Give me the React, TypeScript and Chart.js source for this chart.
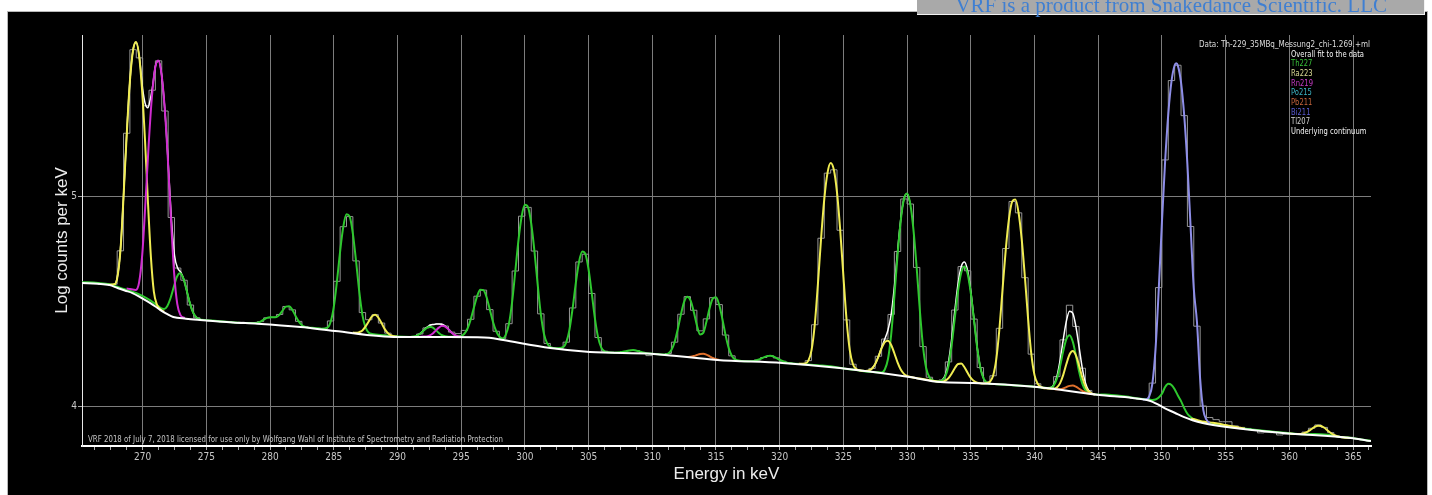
import React, { useEffect, useRef } from 'react';
import { Chart, registerables } from 'chart.js';

Chart.register(...registerables);

const WIDTH = 1432;
const HEIGHT = 495;

// ---------------- axes ----------------
const X_MIN = 265.24;
const X_MAX = 366.41;
const Y_MIN = 3.8095;
const Y_MAX = 5.767;
const X_MAJOR_TICKS = [270, 275, 280, 285, 290, 295, 300, 305, 310, 315, 320, 325, 330, 335, 340, 345, 350, 355, 360, 365];
const X_MINOR_PER_MAJOR = 4;
const Y_TICKS = [4, 5];

// ---------------- texts ----------------
const X_TITLE = 'Energy in keV';
const Y_TITLE = 'Log counts per keV';
const DATA_HEADER = 'Data: Th-229_35MBq_Messung2_chi-1.269.+ml';
const LEGEND_LABELS = ['Overall fit to the data', 'Th227', 'Ra223', 'Rn219', 'Po215', 'Pb211', 'Bi211', 'Tl207', 'Underlying continuum'];
const LEGEND_COLORS = ['#f4f4f4', '#38c038', '#dcdc96', '#c83cc8', '#3cb4c4', '#c4643c', '#5a5ad2', '#d0d0d0', '#f4f4f4'];
const LICENSE_TEXT = 'VRF 2018 of July 7, 2018 licensed for use only by Wolfgang Wahl of Institute of Spectrometry and Radiation Protection';
const BANNER_TEXT = 'VRF is a product from Snakedance Scientific. LLC';

// ---------------- data (keV, log10 counts per keV) ----------------
type Pt = [number, number];

// measured spectrum, 0.5 keV bins starting at 265.25 keV (bin centres)
const HIST_FIRST_CENTRE = 265.25;
const HIST_BIN_WIDTH = 0.5;
const histogram = [
  4.587, 4.584, 4.583, 4.579, 4.578, 4.580, 4.739, 5.299, 5.697, 5.658,
  5.430, 5.504, 5.644, 5.405, 4.898, 4.657, 4.599, 4.481, 4.420, 4.408,
  4.405, 4.407, 4.401, 4.402, 4.397, 4.399, 4.393, 4.396, 4.402, 4.420,
  4.423, 4.436, 4.474, 4.458, 4.403, 4.377, 4.373, 4.370, 4.368, 4.405,
  4.594, 4.854, 4.902, 4.691, 4.445, 4.411, 4.435, 4.395, 4.347, 4.332,
  4.330, 4.328, 4.331, 4.343, 4.372, 4.388, 4.391, 4.381, 4.352, 4.345,
  4.360, 4.413, 4.523, 4.552, 4.459, 4.356, 4.322, 4.392, 4.643, 4.904,
  4.946, 4.738, 4.439, 4.298, 4.275, 4.273, 4.304, 4.467, 4.686, 4.723,
  4.536, 4.326, 4.261, 4.256, 4.254, 4.259, 4.265, 4.264, 4.255, 4.240,
  4.247, 4.244, 4.250, 4.304, 4.437, 4.521, 4.456, 4.358, 4.415, 4.516,
  4.483, 4.338, 4.239, 4.215, 4.213, 4.213, 4.219, 4.231, 4.240, 4.229,
  4.213, 4.205, 4.202, 4.199, 4.216, 4.387, 4.799, 5.109, 5.125, 4.837,
  4.410, 4.199, 4.170, 4.167, 4.179, 4.237, 4.319, 4.436, 4.736, 4.986,
  4.962, 4.660, 4.283, 4.137, 4.118, 4.124, 4.210, 4.457, 4.664, 4.644,
  4.414, 4.183, 4.115, 4.144, 4.370, 4.750, 4.974, 4.920, 4.611, 4.247,
  4.106, 4.086, 4.087, 4.140, 4.315, 4.480, 4.379, 4.180, 4.074, 4.055,
  4.053, 4.049, 4.048, 4.046, 4.041, 4.037, 4.033, 4.035, 4.109, 4.564,
  5.172, 5.550, 5.623, 5.383, 4.855, 4.380, 4.000, 3.945, 3.935, 3.925,
  3.925, 3.905, 3.898, 3.893, 3.885, 3.872, 3.875, 3.873, 3.862, 3.866,
  3.866, 3.869, 3.876, 3.894, 3.910, 3.898, 3.873, 3.856, 3.849, 3.851,
  3.843, 3.838, 3.834,
];

const continuum: Pt[] = [
  [265.24, 4.586], [266.5, 4.582], [267.4, 4.576], [268.0, 4.563], [268.6, 4.550], [269.2, 4.538],
  [269.9, 4.515], [270.6, 4.490], [271.0, 4.474], [271.4, 4.457], [271.9, 4.439], [272.4, 4.424],
  [273.4, 4.416], [274.5, 4.410], [277.1, 4.398], [279.0, 4.392], [282.4, 4.376], [285.1, 4.357],
  [290.0, 4.329], [294.0, 4.329], [296.3, 4.328], [297.2, 4.325], [298.3, 4.314], [302.0, 4.276],
  [305.1, 4.257], [310.1, 4.248], [315.1, 4.219], [320.2, 4.205], [324.7, 4.181], [330.2, 4.138],
  [332.6, 4.114], [335.2, 4.110], [340.2, 4.090], [345.1, 4.052], [347.7, 4.038], [349.1, 4.024],
  [349.6, 4.010], [350.2, 3.990], [351.0, 3.968], [351.7, 3.948], [352.4, 3.932], [353.2, 3.919],
  [355.1, 3.900], [359.5, 3.871], [364.8, 3.848], [366.41, 3.833],
];

const overallFit: Pt[][] = [
  [
    [267.5, 4.575], [267.75, 4.577], [268.0, 4.610], [268.25, 4.739], [268.5, 4.998], [268.75, 5.299],
    [269.0, 5.547], [269.25, 5.697], [269.5, 5.733], [269.75, 5.658], [270.0, 5.510], [270.2, 5.440],
    [270.4, 5.420], [270.6, 5.460], [270.8, 5.530], [271.0, 5.618], [271.25, 5.644], [271.5, 5.572],
    [271.75, 5.405], [272.0, 5.162], [272.25, 4.898], [272.5, 4.718], [272.75, 4.657], [273.0, 4.636],
    [273.25, 4.599], [273.5, 4.539], [273.75, 4.481], [274.0, 4.440], [274.25, 4.420], [274.5, 4.412],
  ],
  [
    [291.5, 4.3355], [291.75, 4.343], [292.0, 4.357], [292.25, 4.372], [292.5, 4.383], [292.75, 4.388],
    [293.0, 4.390], [293.25, 4.391], [293.5, 4.389], [293.75, 4.381], [294.0, 4.367], [294.25, 4.350],
    [294.5, 4.338], [294.75, 4.333],
  ],
  [
    [327.25, 4.1786], [327.5, 4.2007], [327.75, 4.2365], [328.0, 4.279], [328.25, 4.3193], [328.5, 4.3622],
    [328.75, 4.4363], [329.0, 4.568], [329.25, 4.7364], [329.5, 4.8884], [329.75, 4.9862], [330.0, 5.0125],
    [330.25, 4.962],
  ],
  [
    [332.75, 4.1237], [333.0, 4.1478], [333.25, 4.2096], [333.5, 4.3196], [333.75, 4.4571], [334.0, 4.5825],
    [334.25, 4.6643], [334.5, 4.686], [334.75, 4.6442], [335.0, 4.5465], [335.25, 4.4138], [335.5, 4.280],
    [335.75, 4.1827], [336.0, 4.132],
  ],
  [
    [341.0, 4.0845], [341.25, 4.087], [341.5, 4.1003], [341.75, 4.1395], [342.0, 4.2153], [342.25, 4.3148],
    [342.5, 4.4041], [342.75, 4.4516], [343.0, 4.4423], [343.25, 4.3785], [343.5, 4.280], [343.75, 4.1802],
    [344.0, 4.1094], [344.25, 4.074], [344.5, 4.0604],
  ],
];

const th227: Pt[][] = [[
  [265.24, 4.590], [266.5, 4.586], [267.4, 4.580], [268.0, 4.568], [268.6, 4.556], [269.2, 4.545],
  [269.9, 4.527], [270.6, 4.503], [271.0, 4.486], [271.43, 4.466], [271.68, 4.462], [271.93, 4.4755],
  [272.18, 4.512], [272.43, 4.564], [272.68, 4.614], [272.93, 4.632], [273.18, 4.610], [273.43, 4.557],
  [273.68, 4.496], [273.93, 4.4495], [274.18, 4.424], [274.43, 4.413], [275.0, 4.409], [276.0, 4.404],
  [277.0, 4.399], [278.0, 4.395], [279.0, 4.397], [279.25, 4.402], [279.5, 4.411], [279.75, 4.4195],
  [280.0, 4.423], [280.25, 4.4225], [280.5, 4.424], [280.75, 4.4355], [281.0, 4.456], [281.25, 4.4735],
  [281.5, 4.475], [281.75, 4.458], [282.0, 4.429], [282.25, 4.403], [282.5, 4.385], [282.75, 4.377],
  [283.0, 4.373], [283.5, 4.372], [284.0, 4.368], [284.5, 4.373], [284.75, 4.400], [285.0, 4.471],
  [285.25, 4.594], [285.5, 4.737], [285.75, 4.854], [286.0, 4.913], [286.25, 4.902], [286.5, 4.821],
  [286.75, 4.690], [287.0, 4.546], [287.25, 4.4325], [287.5, 4.373], [287.75, 4.349], [288.0, 4.343],
  [289.0, 4.337], [290.0, 4.331], [291.0, 4.329], [291.25, 4.331], [291.5, 4.335], [291.75, 4.343],
  [292.0, 4.3565], [292.25, 4.370], [292.5, 4.378], [292.75, 4.374], [293.0, 4.362], [293.25, 4.348],
  [293.5, 4.337], [293.75, 4.332], [294.0, 4.330], [295.0, 4.334], [295.25, 4.344], [295.5, 4.369],
  [295.75, 4.4125], [296.0, 4.469], [296.25, 4.5225], [296.5, 4.554], [296.75, 4.5515], [297.0, 4.517],
  [297.25, 4.459], [297.5, 4.4005], [297.75, 4.356], [298.0, 4.331], [298.25, 4.322], [298.5, 4.339],
  [298.75, 4.3915], [299.0, 4.4965], [299.25, 4.643], [299.5, 4.7915], [299.75, 4.904], [300.0, 4.9585],
  [300.25, 4.946], [300.5, 4.8685], [300.75, 4.738], [301.0, 4.5815], [301.25, 4.4385], [301.5, 4.343],
  [301.75, 4.298], [302.0, 4.281], [302.5, 4.275], [303.0, 4.280], [303.25, 4.304], [303.5, 4.364],
  [303.75, 4.4665], [304.0, 4.5865], [304.25, 4.686], [304.5, 4.7355], [304.75, 4.723], [305.0, 4.650],
  [305.25, 4.536], [305.5, 4.416], [305.75, 4.3255], [306.0, 4.278], [306.25, 4.2605], [306.5, 4.256],
  [307.0, 4.254], [307.5, 4.2556], [308.0, 4.262], [308.5, 4.2665], [309.0, 4.2596], [309.5, 4.2517],
  [310.0, 4.249], [311.0, 4.2452], [311.25, 4.250], [311.5, 4.2665], [311.75, 4.304], [312.0, 4.3655],
  [312.25, 4.437], [312.5, 4.496], [312.75, 4.520], [313.0, 4.503], [313.25, 4.450], [313.5, 4.385],
  [313.75, 4.341], [314.0, 4.348], [314.25, 4.401], [314.5, 4.4665], [314.75, 4.512], [315.0, 4.518],
  [315.25, 4.482], [315.5, 4.415], [315.75, 4.3375], [316.0, 4.2755], [316.25, 4.2385], [316.5, 4.222],
  [317.0, 4.2145], [317.5, 4.2127], [318.0, 4.2149], [318.5, 4.2248], [319.0, 4.2376], [319.25, 4.2395],
  [319.5, 4.2362], [320.0, 4.2201], [320.5, 4.2076], [321.0, 4.203], [322.0, 4.199], [323.0, 4.194],
  [324.0, 4.189], [325.0, 4.179], [326.0, 4.171], [327.0, 4.163], [328.0, 4.160], [328.25, 4.174],
  [328.5, 4.2238], [328.75, 4.3403], [329.0, 4.521], [329.25, 4.7189], [329.5, 4.8827], [329.75, 4.9845],
  [330.0, 5.012], [330.25, 4.962], [330.5, 4.8393], [330.75, 4.6596], [331.0, 4.456], [331.25, 4.2831],
  [331.5, 4.180], [331.75, 4.1371], [332.0, 4.1231], [332.25, 4.1175], [332.5, 4.117], [332.75, 4.1217],
  [333.0, 4.141], [333.25, 4.1931], [333.5, 4.2914], [333.75, 4.4221], [334.0, 4.5481], [334.25, 4.6352],
  [334.5, 4.6642], [334.75, 4.6293], [335.0, 4.5376], [335.25, 4.4093], [335.5, 4.2782], [335.75, 4.1823],
  [336.0, 4.1318], [336.25, 4.1124], [336.5, 4.106], [337.0, 4.104], [338.0, 4.100], [339.0, 4.096],
  [340.0, 4.092], [340.5, 4.088], [341.0, 4.086], [341.25, 4.0864], [341.5, 4.0974], [341.75, 4.1289],
  [342.0, 4.1874], [342.25, 4.2604], [342.5, 4.3187], [342.75, 4.3372], [343.0, 4.3073], [343.25, 4.2408],
  [343.5, 4.1647], [343.75, 4.1063], [344.0, 4.0749], [344.25, 4.0622], [344.5, 4.0577], [345.0, 4.054],
  [345.5, 4.055], [346.0, 4.053], [346.5, 4.050], [347.0, 4.046], [347.5, 4.042], [348.0, 4.037],
  [348.5, 4.033], [349.0, 4.031], [349.25, 4.029], [349.5, 4.031], [349.75, 4.040], [350.0, 4.058],
  [350.25, 4.0904], [350.5, 4.1057], [350.75, 4.100], [351.0, 4.080], [351.25, 4.050], [351.5, 4.023],
  [351.75, 3.990], [352.0, 3.963], [352.25, 3.948], [352.5, 3.937], [352.75, 3.930], [353.0, 3.925],
  [354.0, 3.913], [355.0, 3.902], [356.0, 3.895], [358.0, 3.882], [360.0, 3.870], [361.0, 3.866],
  [361.5, 3.866], [362.0, 3.867], [362.5, 3.866], [363.0, 3.863], [363.5, 3.858], [364.0, 3.853],
  [365.0, 3.847], [366.41, 3.834],
]];

const ra223: Pt[][] = [
  [
    [267.3, 4.578], [267.83, 4.581], [268.06, 4.629], [268.3, 4.777], [268.53, 5.034], [268.77, 5.316],
    [269.0, 5.547], [269.24, 5.691], [269.47, 5.734], [269.71, 5.675], [269.94, 5.518], [270.18, 5.273],
    [270.41, 4.979], [270.65, 4.708], [270.88, 4.545], [271.12, 4.483], [271.4, 4.460], [271.7, 4.449],
  ],
  [
    [286.5, 4.3495], [286.75, 4.349], [287.0, 4.352], [287.25, 4.360], [287.5, 4.379], [287.75, 4.404],
    [288.0, 4.427], [288.25, 4.435], [288.5, 4.421], [288.75, 4.395], [289.0, 4.366], [289.25, 4.347],
    [289.5, 4.336], [289.75, 4.332], [290.0, 4.330],
  ],
  [
    [321.5, 4.2008], [322.0, 4.2024], [322.25, 4.216], [322.5, 4.266], [322.75, 4.3865], [323.0, 4.581],
    [323.25, 4.799], [323.5, 4.985], [323.75, 5.109], [324.0, 5.157], [324.25, 5.125], [324.5, 5.016],
    [324.75, 4.837], [325.0, 4.6186], [325.25, 4.4096], [325.5, 4.2662], [325.75, 4.199], [326.0, 4.1766],
    [326.25, 4.170], [326.5, 4.168], [326.75, 4.1666], [327.0, 4.169], [327.25, 4.1786], [327.5, 4.2007],
    [327.75, 4.2357], [328.0, 4.2755], [328.25, 4.3046], [328.5, 4.3108], [328.75, 4.2905], [329.0, 4.2513],
    [329.25, 4.2079], [329.5, 4.1737], [329.75, 4.1532], [330.0, 4.1432], [330.25, 4.1385], [331.0, 4.1305],
    [332.0, 4.1205], [332.5, 4.116], [332.75, 4.116], [333.0, 4.1206], [333.25, 4.1328], [333.5, 4.1546],
    [333.75, 4.1809], [334.0, 4.2003], [334.25, 4.2019], [334.5, 4.1847], [334.75, 4.158], [335.0, 4.1339],
    [335.25, 4.1188], [335.5, 4.1115], [335.75, 4.1085], [336.0, 4.1075], [336.25, 4.108], [336.5, 4.1156],
    [336.75, 4.144], [337.0, 4.2228], [337.25, 4.3702], [337.5, 4.5626], [337.75, 4.7499], [338.0, 4.8937],
    [338.25, 4.9739], [338.5, 4.9831], [338.75, 4.9203], [339.0, 4.7909], [339.25, 4.6108], [339.5, 4.4128],
    [339.75, 4.2468], [340.0, 4.147], [340.25, 4.1056], [340.5, 4.0909], [340.75, 4.085], [341.0, 4.0838],
    [341.5, 4.0826], [341.75, 4.0886], [342.0, 4.1079], [342.25, 4.147], [342.5, 4.1998], [342.75, 4.2454],
    [343.0, 4.2623], [343.25, 4.2416], [343.5, 4.192], [343.75, 4.1354], [344.0, 4.0924], [344.25, 4.0692],
    [344.5, 4.0594], [344.75, 4.0548],
  ],
  [
    [352.3, 3.940], [352.75, 3.934], [353.0, 3.929], [353.5, 3.924], [354.0, 3.920], [354.5, 3.915],
    [355.0, 3.909], [355.5, 3.904], [356.0, 3.898], [356.5, 3.893],
  ],
  [
    [360.0, 3.8688], [360.5, 3.8671], [360.75, 3.867], [361.0, 3.8683], [361.25, 3.8724], [361.5, 3.8801],
    [361.75, 3.8905], [362.0, 3.9006], [362.25, 3.9063], [362.5, 3.9048], [362.75, 3.8962], [363.0, 3.8836],
    [363.25, 3.8713], [363.5, 3.8619], [363.75, 3.8561], [364.0, 3.8527], [364.25, 3.8504], [364.75, 3.848],
  ],
];

const rn219: Pt[][] = [
  [
    [268.74, 4.560], [269.0, 4.557], [269.47, 4.553], [269.72, 4.588], [269.97, 4.722], [270.22, 4.968],
    [270.47, 5.242], [270.72, 5.467], [270.97, 5.6055], [271.22, 5.645], [271.47, 5.5855], [271.72, 5.428],
    [271.97, 5.186], [272.22, 4.895], [272.47, 4.634], [272.72, 4.485], [272.97, 4.433], [273.3, 4.419],
  ],
  [
    [291.75, 4.330], [292.0, 4.3305], [292.25, 4.331], [292.5, 4.335], [292.75, 4.344], [293.0, 4.359],
    [293.25, 4.3735], [293.5, 4.382], [293.75, 4.378], [294.0, 4.365], [294.25, 4.350], [294.5, 4.338],
    [294.75, 4.332], [295.0, 4.330],
  ],
];

const pb211: Pt[][] = [
  [
    [312.75, 4.2337], [313.0, 4.2346], [313.25, 4.238], [313.5, 4.243], [313.75, 4.248], [314.0, 4.249],
    [314.25, 4.2448], [314.5, 4.2366], [314.75, 4.2285], [315.0, 4.2225], [315.25, 4.2195],
  ],
  [
    [341.5, 4.0805], [342.0, 4.080], [342.25, 4.0837], [342.5, 4.090], [342.75, 4.0959], [343.0, 4.0973],
    [343.25, 4.0921], [343.5, 4.0822], [343.75, 4.0721], [344.0, 4.0645], [344.25, 4.0595], [344.5, 4.0572],
  ],
];

const bi211: Pt[][] = [[
  [348.5, 4.031], [348.75, 4.0315], [349.0, 4.0461], [349.25, 4.106], [349.5, 4.273], [349.75, 4.5544],
  [350.0, 4.8745], [350.25, 5.164], [350.5, 5.3917], [350.75, 5.546], [351.0, 5.623], [351.12, 5.632],
  [351.25, 5.6213], [351.5, 5.5408], [351.75, 5.3827], [352.0, 5.1507], [352.25, 4.8546], [352.5, 4.560],
  [352.75, 4.400], [353.0, 4.130], [353.25, 3.980], [353.5, 3.935], [353.75, 3.918],
]];

// ---------------- helpers ----------------
function segmentsToPoints(segs: Pt[][]) {
  const out: { x: number; y: number | null }[] = [];
  segs.forEach((seg, i) => {
    if (i > 0) out.push({ x: seg[0][0] - 0.01, y: null });
    seg.forEach(([x, y]) => out.push({ x, y }));
  });
  return out;
}

function buildXTicks() {
  const step = 5 / X_MINOR_PER_MAJOR;
  const vals: number[] = [];
  X_MAJOR_TICKS.forEach((m) => {
    for (let j = X_MINOR_PER_MAJOR - 1; j >= 1; j--) vals.push(m - j * step);
    vals.push(m);
  });
  const last = X_MAJOR_TICKS[X_MAJOR_TICKS.length - 1];
  for (let j = 1; j < X_MINOR_PER_MAJOR; j++) vals.push(last + j * step);
  return vals.filter((v) => v >= X_MIN && v <= X_MAX).map((value) => ({ value }));
}

const isMajor = (v: number) => X_MAJOR_TICKS.indexOf(v) >= 0;

const NARROW = '"Liberation Sans Narrow", "DejaVu Sans Condensed", "Liberation Sans", Arial, sans-serif';
const SANS = '"Liberation Sans", Arial, sans-serif';

function fitText(ctx: CanvasRenderingContext2D, text: string, x: number, y: number, scaleX: number, color: string) {
  ctx.save();
  ctx.translate(x, y);
  ctx.scale(scaleX, 1);
  ctx.fillStyle = color;
  ctx.textBaseline = 'middle';
  ctx.textAlign = 'left';
  ctx.fillText(text, 0, 0);
  ctx.restore();
}

const framePlugin = {
  id: 'vrfFrame',
  beforeDraw(chart: any) {
    const ctx: CanvasRenderingContext2D = chart.ctx;
    ctx.save();
    ctx.fillStyle = '#ffffff';
    ctx.fillRect(0, 0, WIDTH, HEIGHT);
    ctx.fillStyle = '#000000';
    ctx.fillRect(7, 11, 1421, HEIGHT - 11);
    ctx.strokeStyle = '#b8b8b8';
    ctx.lineWidth = 1;
    ctx.strokeRect(7.5, 11.5, 1420, HEIGHT);
    ctx.restore();
  },
  afterDraw(chart: any) {
    const ctx: CanvasRenderingContext2D = chart.ctx;
    ctx.save();
    // data header
    ctx.font = '9px ' + NARROW;
    const hw = ctx.measureText(DATA_HEADER).width;
    fitText(ctx, DATA_HEADER, 1199, 44.5, 171 / hw, '#dcdcdc');
    // legend list
    const refW = ctx.measureText(LEGEND_LABELS[0]).width;
    const s = 73 / refW;
    LEGEND_LABELS.forEach((label, i) => {
      fitText(ctx, label, 1291, 54.3 + i * 9.65, s, LEGEND_COLORS[i]);
    });
    // licence line
    const lw = ctx.measureText(LICENSE_TEXT).width;
    fitText(ctx, LICENSE_TEXT, 88, 440, 415 / lw, '#c4c4c4');

    // banner at the top right
    const bannerLeft = 917;
    ctx.fillStyle = '#a9a9a9';
    ctx.fillRect(bannerLeft, 0, 1424 - bannerLeft, 14);
    ctx.strokeStyle = '#f2f2f2';
    ctx.lineWidth = 1;
    ctx.beginPath();
    ctx.moveTo(bannerLeft, 14.5);
    ctx.lineTo(1425, 14.5);
    ctx.moveTo(1424.5, 0);
    ctx.lineTo(1424.5, 15);
    ctx.stroke();
    ctx.font = '21px "Liberation Serif", "Times New Roman", serif';
    ctx.fillStyle = '#3f7fd2';
    ctx.textAlign = 'right';
    ctx.textBaseline = 'alphabetic';
    ctx.fillText(BANNER_TEXT, 1387, 11.5);
    ctx.restore();
  },
};

function lineDs(label: string, data: any[], color: string, width: number, extra: any = {}) {
  return {
    label,
    data,
    borderColor: color,
    backgroundColor: color,
    borderWidth: width,
    pointRadius: 0,
    pointHoverRadius: 0,
    fill: false,
    spanGaps: false,
    cubicInterpolationMode: 'monotone',
    ...extra,
  };
}

export default function App() {
  const ref = useRef<HTMLCanvasElement>(null);

  useEffect(() => {
    document.body.style.margin = '0';
    document.body.style.overflow = 'hidden';
    const canvas = ref.current;
    if (!canvas) return;

    const histPoints = histogram.map((y, i) => ({ x: HIST_FIRST_CENTRE + i * HIST_BIN_WIDTH, y }));

    const datasets: any[] = [
      lineDs('Underlying continuum', continuum.map(([x, y]) => ({ x, y })), '#ffffff', 2),
      lineDs('Bi211', segmentsToPoints(bi211), '#8e8ee8', 2),
      lineDs('Pb211', segmentsToPoints(pb211), '#e0702c', 2),
      lineDs('Rn219', segmentsToPoints(rn219), '#d02cd0', 2),
      lineDs('Ra223', segmentsToPoints(ra223), '#f0ec52', 2),
      lineDs('Th227', segmentsToPoints(th227), '#2ec82e', 2),
      lineDs('Overall fit to the data', segmentsToPoints(overallFit), '#ffffff', 1.5),
      lineDs('Data', histPoints, '#969696', 1, { stepped: 'middle', cubicInterpolationMode: 'default', tension: 0 }),
    ];

    const chart = new Chart(canvas, {
      type: 'line',
      data: { datasets },
      options: {
        animation: false,
        responsive: false,
        devicePixelRatio: 1,
        events: [],
        layout: { padding: { left: 0, right: 61, top: 35, bottom: 0 } },
        plugins: { legend: { display: false }, tooltip: { enabled: false } },
        scales: {
          x: {
            type: 'linear',
            position: 'bottom',
            min: X_MIN,
            max: X_MAX,
            afterBuildTicks: (axis: any) => {
              axis.ticks = buildXTicks();
            },
            afterFit: (axis: any) => {
              axis.height = 49;
            },
            ticks: {
              autoSkip: false,
              maxRotation: 0,
              minRotation: 0,
              padding: 1,
              color: '#c8c8c8',
              font: { size: 10, family: NARROW },
              callback: (v: any) => (isMajor(Number(v)) ? String(v) : ''),
            },
            grid: {
              color: (c: any) => (c.tick && isMajor(c.tick.value) ? '#7c7c7c' : 'rgba(0,0,0,0)'),
              tickColor: '#a8a8a8',
              tickLength: 4,
              lineWidth: 1,
            },
            border: { color: '#ffffff', width: 2 },
            title: {
              display: true,
              text: X_TITLE,
              color: '#ececec',
              font: { size: 17, family: SANS },
              padding: { top: 0, bottom: 10 },
            },
          },
          y: {
            type: 'linear',
            position: 'left',
            min: Y_MIN,
            max: Y_MAX,
            afterBuildTicks: (axis: any) => {
              axis.ticks = Y_TICKS.map((value) => ({ value }));
            },
            afterFit: (axis: any) => {
              axis.width = 82;
            },
            ticks: {
              padding: 1,
              color: '#c8c8c8',
              font: { size: 10, family: NARROW },
              callback: (v: any) => String(v),
            },
            grid: { color: '#7c7c7c', tickColor: '#a8a8a8', tickLength: 4, lineWidth: 1 },
            border: { color: '#e8e8e8', width: 1 },
            title: {
              display: true,
              text: Y_TITLE,
              color: '#ececec',
              font: { size: 17, family: SANS },
              padding: { top: 52, bottom: 0 },
            },
          },
        },
      },
      plugins: [framePlugin],
    } as any);

    return () => chart.destroy();
  }, []);

  return (
    <div style={{ position: 'relative', width: WIDTH, height: HEIGHT, overflow: 'hidden', background: '#ffffff' }}>
      <canvas ref={ref} width={WIDTH} height={HEIGHT} style={{ display: 'block', width: WIDTH, height: HEIGHT }} />
    </div>
  );
}
